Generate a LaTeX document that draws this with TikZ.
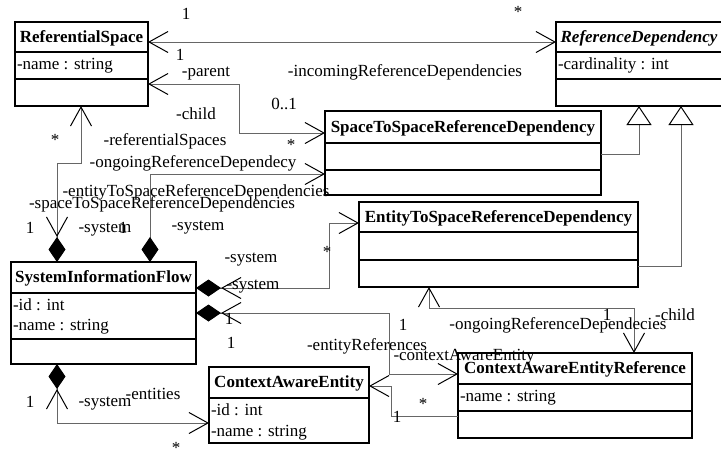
\documentclass[tikz,border=0pt]{standalone}
\usepackage{fontspec}
\setmainfont{Liberation Serif}
\usetikzlibrary{arrows.meta}
\tikzset{
  every node/.style={inner sep=0pt, outer sep=0pt, text height=11.5pt, text depth=3.5pt},
  cls/.style={draw=black, line width=1.5pt, anchor=north west},
  rule/.style={draw=black, line width=1.5pt},
  title/.style={font=\fontsize{17}{20}\selectfont\bfseries},
  atitle/.style={font=\fontsize{17}{20}\selectfont\bfseries\itshape},
  attr/.style={anchor=west},
  star/.style={text depth=0pt},
  conn/.style={draw=black!60, line width=1pt},
  navend/.style={arrows={-Straight Barb[length=19pt,width=21pt,line width=1pt,color=black]}},
  navboth/.style={arrows={Straight Barb[length=19pt,width=21pt,line width=1pt,color=black]-Straight Barb[length=19pt,width=21pt,line width=1pt,color=black]}},
  compnav/.style={arrows={Diamond[length=25pt,width=17pt,color=black,sep=0pt] Straight Barb[length=19pt,width=21pt,line width=1pt,color=black,sep=0pt]-Straight Barb[length=19pt,width=21pt,line width=1pt,color=black]}},
  comp/.style={arrows={Diamond[length=25pt,width=17pt,color=black]-Straight Barb[length=19pt,width=21pt,line width=1pt,color=black]}},
  gen/.style={arrows={-Triangle[open,length=19pt,width=25pt,line width=1pt,color=black,fill=white]}},
}
\begin{document}
\begin{tikzpicture}[x=1pt, y=-1pt, font=\fontsize{17}{20}\selectfont]
\useasboundingbox (0,0) rectangle (721,456);
\clip (0,0) rectangle (721,456);

% ---------- classes ----------
% ReferentialSpace
\node[cls, minimum width=133pt, minimum height=84pt] (rs) at (15,22) {};
\draw[rule] (15,52) -- (148,52) (15,79) -- (148,79);
\node[title] (rsT) at (81.5,38) {ReferentialSpace};
\node[attr] (rsA) at (17,65) {-name : string};

% ReferenceDependency (abstract)
\node[cls, minimum width=168pt, minimum height=84pt] (rd) at (556,22) {};
\draw[rule] (556,52) -- (724,52) (556,79) -- (724,79);
\node[atitle] (rdT) at (639,38) {ReferenceDependency};
\node[attr] (rdA) at (558,65) {-cardinality : int};

% SpaceToSpaceReferenceDependency
\node[cls, minimum width=276pt, minimum height=84pt] (ss) at (325,111) {};
\draw[rule] (325,143) -- (601,143) (325,170) -- (601,170);
\node[title] (ssT) at (463,128) {SpaceToSpaceReferenceDependency};

% EntityToSpaceReferenceDependency
\node[cls, minimum width=279pt, minimum height=85pt] (es) at (359,202) {};
\draw[rule] (359,232) -- (638,232) (359,260) -- (638,260);
\node[title] (esT) at (498.5,218) {EntityToSpaceReferenceDependency};

% SystemInformationFlow
\node[cls, minimum width=185pt, minimum height=102pt] (sif) at (11,262) {};
\draw[rule] (11,293) -- (196,293) (11,339) -- (196,339);
\node[title] (sifT) at (103.5,278) {SystemInformationFlow};
\node[attr] (sifA1) at (13,306) {-id : int};
\node[attr] (sifA2) at (13,326) {-name : string};

% ContextAwareEntity
\node[cls, minimum width=160pt, minimum height=76pt] (cae) at (209,367) {};
\draw[rule] (209,398) -- (369,398);
\node[title] (caeT) at (289,383) {ContextAwareEntity};
\node[attr] (caeA1) at (211,411) {-id : int};
\node[attr] (caeA2) at (211,432) {-name : string};

% ContextAwareEntityReference
\node[cls, minimum width=234pt, minimum height=85pt] (caer) at (458,353) {};
\draw[rule] (458,384) -- (692,384) (458,411) -- (692,411);
\node[title] (caerT) at (575,369) {ContextAwareEntityReference};
\node[attr] (caerA) at (460,397) {-name : string};

% ---------- associations ----------
\draw[conn, navboth] (rs.east |- 0,42) -- (rd.west |- 0,42);
\draw[conn, navboth] (rs.east |- 0,84) -| (239,133) -- (ss.west |- 0,133);
\draw[conn, compnav] (sif.north -| 57,0) |- (81,163) -- (rs.south -| 81,0);
\draw[conn, comp] (sif.north -| 150,0) |- (ss.west |- 0,174);
\draw[conn, compnav] (sif.east |- 0,288) -| (329,223) -- (es.west |- 0,223);
\draw[conn, compnav] (sif.east |- 0,313) -| (389,374) -- (caer.west |- 0,374);
\draw[conn, navboth] (es.south -| 429,0) |- (634,308) -- (caer.north -| 634,0);
\draw[conn, navend] (caer.west |- 0,416) -| (391,386) -- (cae.east |- 0,386);
\draw[conn, compnav] (sif.south -| 57,0) |- (cae.west |- 0,423);

% ---------- generalizations ----------
\draw[conn, gen] (ss.east |- 0,154) -| (rd.south -| 639,0);
\draw[conn, gen] (es.east |- 0,266) -| (rd.south -| 681,0);

% ---------- role names and multiplicities ----------
\node (m1) at (186,15) {1};
\node (m2) at (180,56) {1};
\node[star] (m3) at (518,12) {*};
\node (r1) at (405,72) {-incomingReferenceDependencies};
\node (r2) at (206,72) {-parent};
\node (m4) at (284,105) {0..1};
\node (r3) at (196,115) {-child};
\node[star] (m5) at (291,145) {*};
\node[star] (m6) at (55,140) {*};
\node (r4) at (165,141) {-referentialSpaces};
\node (r5) at (193,163) {-ongoingReferenceDependecy};
\node (r6) at (196,192) {-entityToSpaceReferenceDependencies};
\node (r7) at (162,204) {-spaceToSpaceReferenceDependencies};
\node (m7) at (30,229) {1};
\node (r8) at (105,228) {-system};
\node (m8) at (123,229) {1};
\node (r9) at (198,226) {-system};
\node (r10) at (251,258) {-system};
\node[star] (m9) at (327,252) {*};
\node (r11) at (253,285) {-system};
\node (m10) at (229,320) {1};
\node (m11) at (231,344) {1};
\node (m12) at (403,326) {1};
\node (r12) at (367,346) {-entityReferences};
\node (r13) at (464,356) {-contextAwareEntity};
\node (m13) at (607,316) {1};
\node (r14) at (675,316) {-child};
\node (r15) at (558,325) {-ongoingReferenceDependecies};
\node[star] (m14) at (423,404) {*};
\node (m15) at (397,418) {1};
\node (m16) at (30,403) {1};
\node (r16) at (105,402) {-system};
\node (r17) at (153,395) {-entities};
\node[star] (m17) at (176,448) {*};
\end{tikzpicture}
\end{document}
